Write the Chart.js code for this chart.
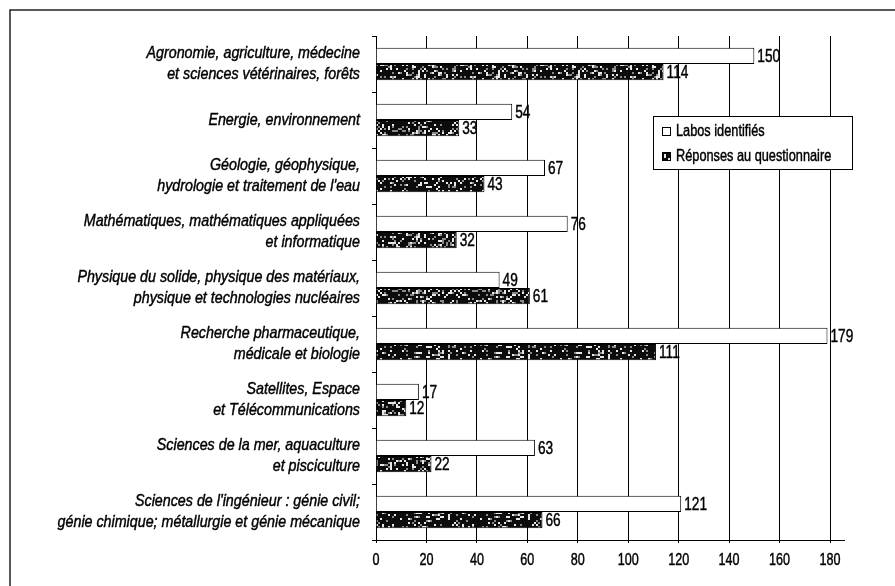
<!DOCTYPE html>
<html lang="fr">
<head>
<meta charset="utf-8">
<title>Laboratoires identifiés et réponses au questionnaire</title>
<script src="https://cdn.jsdelivr.net/npm/chart.js@4/dist/chart.umd.min.js"></script>
<style>
  html, body { margin: 0; padding: 0; background: #fff; }
  #wrap { width: 895px; height: 586px; }
</style>
</head>
<body>
<div id="wrap"><canvas id="c" width="895" height="586"></canvas></div>
<script>
// Domaines de recherche (libellés sur deux lignes)
const categories = [
  ["Agronomie, agriculture, médecine", "et sciences vétérinaires, forêts"],
  ["Energie, environnement"],
  ["Géologie, géophysique,", "hydrologie et traitement de l'eau"],
  ["Mathématiques, mathématiques appliquées", "et informatique"],
  ["Physique du solide, physique des matériaux,", "physique et technologies nucléaires"],
  ["Recherche pharmaceutique,", "médicale et biologie"],
  ["Satellites, Espace", "et Télécommunications"],
  ["Sciences de la mer, aquaculture", "et pisciculture"],
  ["Sciences de l'ingénieur : génie civil;", "génie chimique; métallurgie et génie mécanique"]
];

const seriesNames = ["Labos identifiés", "Réponses au questionnaire"];
const labosIdentifies = [150, 54, 67, 76, 49, 179, 17, 63, 121];
const reponsesQuestionnaire = [114, 33, 43, 32, 61, 111, 12, 22, 66];
const xTicks = [0, 20, 40, 60, 80, 100, 120, 140, 160, 180];

const FONT = "'Liberation Sans', Arial, sans-serif";

// Texte resserré horizontalement et légèrement épaissi (effet « condensed »)
function narrowText(c, text, x, y, align, sx, font) {
  c.save();
  c.font = font;
  c.textAlign = align;
  c.textBaseline = 'middle';
  c.fillStyle = '#000';
  c.strokeStyle = '#000';
  c.lineWidth = 0.45;
  c.translate(x, y);
  c.scale(sx, 1);
  c.fillText(text, 0, 0);
  c.strokeText(text, 0, 0);
  c.restore();
}

// Trame mouchetée sombre pour la seconde série
function speckle() {
  const cells = 40, cell = 2, size = cells * cell;
  const cv = document.createElement('canvas');
  cv.width = size; cv.height = size;
  const g = cv.getContext('2d');
  g.fillStyle = '#0c0c0c';
  g.fillRect(0, 0, size, size);
  let s = 987654;
  const next = () => { s = (s * 1103515245 + 12345) & 0x7fffffff; return s / 0x7fffffff; };
  for (let j = 0; j < cells; j++) {
    for (let i = 0; i < cells; i++) {
      const r = next();
      if (r < 0.13) g.fillStyle = '#e8e8e8';
      else if (r < 0.24) g.fillStyle = '#8a8a8a';
      else continue;
      g.fillRect(i * cell, j * cell, cell, cell);
    }
  }
  return g.createPattern(cv, 'repeat');
}

const ctx = document.getElementById('c').getContext('2d');
const darkFill = speckle();

// Cadre extérieur
const framePlugin = {
  id: 'frame',
  beforeDraw(chart) {
    const c = chart.ctx;
    c.save();
    c.fillStyle = '#fff';
    c.fillRect(0, 0, chart.width, chart.height);
    c.strokeStyle = '#222';
    c.lineWidth = 1.5;
    c.beginPath();
    c.moveTo(10, chart.height + 2);
    c.lineTo(10, 10);
    c.lineTo(chart.width + 2, 10);
    c.stroke();
    c.restore();
  }
};

// Libellés des axes, valeurs en bout de barre, prolongement de l'axe et légende encadrée
const annotatePlugin = {
  id: 'annotate',
  afterDatasetsDraw(chart) {
    const c = chart.ctx;
    const ca = chart.chartArea;

    // valeurs
    chart.data.datasets.forEach((ds, di) => {
      chart.getDatasetMeta(di).data.forEach((bar, i) => {
        narrowText(c, String(ds.data[i]), bar.x + 3, bar.y + 1, 'left', 0.76, '18px ' + FONT);
      });
    });

    // libellés des catégories
    const ys = chart.scales.y;
    chart.data.labels.forEach((lines, i) => {
      const yc = ys.getPixelForTick(i);
      const lh = 21;
      lines.forEach((t, k) => {
        const ly = yc + (k - (lines.length - 1) / 2) * lh;
        narrowText(c, t, ys.right - 16, ly, 'right', 0.84, 'italic 17px ' + FONT);
      });
    });

    // graduations de l'axe horizontal
    const xs = chart.scales.x;
    xTicks.forEach(v => {
      narrowText(c, String(v), xs.getPixelForValue(v), ca.bottom + 20, 'center', 0.74, '17px ' + FONT);
    });

    // axe horizontal prolongé au-delà de 180
    c.save();
    c.strokeStyle = '#000';
    c.lineWidth = 1;
    c.beginPath();
    c.moveTo(ca.right, ca.bottom + 0.5);
    c.lineTo(ca.right + 15, ca.bottom + 0.5);
    c.stroke();
    c.restore();
  },
  afterDraw(chart) {
    const c = chart.ctx;
    const ca = chart.chartArea;
    const x0 = ca.left + 277, y0 = ca.top + 80, w = 199, h = 53;
    c.save();
    c.fillStyle = '#fff';
    c.fillRect(x0, y0, w, h);
    c.strokeStyle = '#000';
    c.lineWidth = 1;
    c.strokeRect(x0 + 0.5, y0 + 0.5, w, h);
    const fills = ['#fff', darkFill];
    seriesNames.forEach((name, k) => {
      const cy = y0 + 15 + k * 25;
      c.fillStyle = fills[k];
      c.fillRect(x0 + 9, cy - 4, 9, 9);
      c.strokeStyle = '#000';
      c.lineWidth = 1;
      c.strokeRect(x0 + 9.5, cy - 3.5, 8, 8);
      narrowText(c, name, x0 + 23, cy, 'left', 0.75, '17px ' + FONT);
    });
    c.restore();
  }
};

new Chart(ctx, {
  type: 'bar',
  data: {
    labels: categories,
    datasets: [
      {
        label: seriesNames[0],
        data: labosIdentifies,
        backgroundColor: '#fff',
        borderColor: '#000',
        borderWidth: 1,
        borderSkipped: 'start'
      },
      {
        label: seriesNames[1],
        data: reponsesQuestionnaire,
        backgroundColor: darkFill,
        borderColor: '#000',
        borderWidth: 1,
        borderSkipped: 'start'
      }
    ]
  },
  options: {
    indexAxis: 'y',
    responsive: false,
    animation: false,
    devicePixelRatio: 1,
    layout: { padding: { left: 0, right: 65, top: 36, bottom: 0 } },
    datasets: { bar: { categoryPercentage: 0.58, barPercentage: 1.0 } },
    plugins: {
      legend: { display: false },
      tooltip: { enabled: false }
    },
    scales: {
      x: {
        min: 0,
        max: 180,
        afterBuildTicks(scale) { scale.ticks = xTicks.map(v => ({ value: v })); },
        afterFit(scale) { scale.height = 46; },
        grid: {
          color: '#000',
          lineWidth: 1,
          drawTicks: true,
          tickLength: 3,
          tickColor: '#000'
        },
        border: { display: true, color: '#000', width: 1 },
        ticks: { display: false }
      },
      y: {
        afterFit(scale) { scale.width = 376; },
        grid: {
          display: true,
          drawOnChartArea: false,
          drawTicks: true,
          tickLength: 4,
          color: '#000',
          offset: true
        },
        border: { display: true, color: '#000', width: 1 },
        ticks: { display: false }
      }
    }
  },
  plugins: [framePlugin, annotatePlugin]
});
</script>
</body>
</html>
